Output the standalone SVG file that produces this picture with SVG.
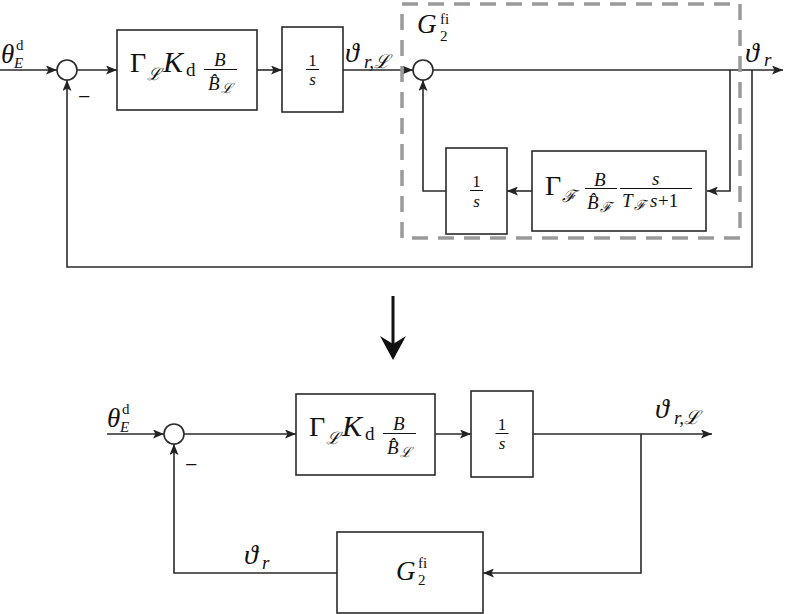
<svg xmlns="http://www.w3.org/2000/svg" width="786" height="614" viewBox="0 0 786 614">
<defs>
<marker id="arr" viewBox="0 0 11 9" refX="11" refY="4.5" markerWidth="11" markerHeight="9" markerUnits="userSpaceOnUse" orient="auto">
<path d="M0,0 L11,4.5 L0,9 L2.5,4.5 Z" fill="#222"/>
</marker>
</defs>
<style>
.w{fill:none;stroke:#2a2a2a;stroke-width:1.6}
.box{fill:#fff;stroke:#2a2a2a;stroke-width:1.6}
.sum{fill:#fff;stroke:#2a2a2a;stroke-width:1.6}
.bar{stroke:#111;stroke-width:1}
text{font-family:"Liberation Serif","DejaVu Serif",serif;fill:#111}
.it{font-style:italic}
.up{font-style:normal}
.m{font-size:28px}
.k{font-size:30px}
.l{font-size:27px}
.s{font-size:19px}
.f{font-size:17px}
.sc{font-size:17px}
.sg{font-size:15px}
.ss{font-size:14px}
.mi{font-size:22px}
.dash{fill:none;stroke:#9a9a9a;stroke-width:3.5;stroke-dasharray:16 10}
</style>
<rect width="786" height="614" fill="#fff"/>

<g id="connectors">
<line class="w" x1="0" y1="70" x2="57" y2="70" marker-end="url(#arr)"/>
<line class="w" x1="77" y1="70" x2="117" y2="70" marker-end="url(#arr)"/>
<line class="w" x1="257" y1="70" x2="282" y2="70" marker-end="url(#arr)"/>
<line class="w" x1="343" y1="70" x2="413" y2="70" marker-end="url(#arr)"/>
<line class="w" x1="433" y1="70" x2="783" y2="70" marker-end="url(#arr)"/>
<polyline class="w" points="730,70 730,191 707,191" marker-end="url(#arr)"/>
<line class="w" x1="532" y1="191" x2="507" y2="191" marker-end="url(#arr)"/>
<polyline class="w" points="446,191 423,191 423,80" marker-end="url(#arr)"/>
<polyline class="w" points="752,70 752,267 67,267 67,80" marker-end="url(#arr)"/>
<line x1="393" y1="296" x2="393" y2="345" stroke="#111" stroke-width="3"/>
<path d="M393,360 L380,336 L393,344 L406,336 Z" fill="#111"/>
<line class="w" x1="107" y1="434" x2="164" y2="434" marker-end="url(#arr)"/>
<line class="w" x1="184" y1="434" x2="296" y2="434" marker-end="url(#arr)"/>
<line class="w" x1="435" y1="434" x2="471" y2="434" marker-end="url(#arr)"/>
<line class="w" x1="533" y1="434" x2="712" y2="434" marker-end="url(#arr)"/>
<polyline class="w" points="641,434 641,573 483,573" marker-end="url(#arr)"/>
<polyline class="w" points="337,573 174,573 174,444" marker-end="url(#arr)"/>
</g>

<g id="G2fi_frame">
<rect class="dash" x="402" y="4" width="338" height="234"/>
<text class="it l" x="417" y="33">G<tspan class="up sg" x="440" y="24">fi</tspan><tspan class="up sg" x="440" y="41">2</tspan></text>
</g>

<g id="label_theta_top">
<text class="it l" x="1" y="63">θ<tspan class="up sg" x="16" y="50">d</tspan><tspan class="sg" x="14" y="68">E</tspan></text>
<text class="mi" x="78" y="104">−</text>
</g>

<g id="sum1"><circle class="sum" cx="67" cy="70" r="10"/></g>

<g id="box1">
<rect class="box" x="117" y="30" width="140" height="80"/>
<line class="bar" x1="204" y1="69.5" x2="237" y2="69.5"/>
<text class="m" x="130" y="72">Γ<tspan class="it sc" x="147" y="80">ℒ</tspan><tspan class="it k" x="163" y="72">K</tspan><tspan class="s" x="186" y="76">d</tspan><tspan class="it s" x="214" y="66">B</tspan><tspan class="it s" x="208" y="90">B̂</tspan><tspan class="it ss" x="221" y="93">ℒ</tspan></text>
</g>

<g id="box2">
<rect class="box" x="282" y="27" width="61" height="85"/>
<line class="bar" x1="306" y1="69.5" x2="319" y2="69.5"/>
<text class="f" x="312.5" y="66" text-anchor="middle">1<tspan class="it" x="312.5" y="85">s</tspan></text>
</g>

<g id="label_vrL_top">
<text class="it m" x="345" y="62">ϑ<tspan class="s" x="364" y="68">r,ℒ</tspan></text>
</g>

<g id="sum2"><circle class="sum" cx="423" cy="70" r="10"/></g>

<g id="label_vr_top">
<text class="it m" x="745" y="62">ϑ<tspan class="s" x="764" y="66">r</tspan></text>
</g>

<g id="box3">
<rect class="box" x="532" y="151" width="174" height="80"/>
<line class="bar" x1="585" y1="188.5" x2="617" y2="188.5"/>
<line class="bar" x1="620" y1="188.5" x2="692" y2="188.5"/>
<text class="m" x="545" y="195">Γ<tspan class="it sc" x="562" y="202">ℱ</tspan><tspan class="it s" x="594" y="186">B</tspan><tspan class="it s" x="587" y="209">B̂</tspan><tspan class="it ss" x="600" y="212">ℱ</tspan><tspan class="it s" x="652" y="185">s</tspan><tspan class="it s" x="622" y="207">T</tspan><tspan class="it ss" x="634" y="210">ℱ</tspan><tspan class="it s" x="650" y="207">s</tspan><tspan class="s" x="658" y="207">+1</tspan></text>
</g>

<g id="box4">
<rect class="box" x="446" y="148" width="61" height="86"/>
<line class="bar" x1="470" y1="190.5" x2="483" y2="190.5"/>
<text class="f" x="476.5" y="187" text-anchor="middle">1<tspan class="it" x="476.5" y="207">s</tspan></text>
</g>

<g id="label_theta_bottom">
<text class="it l" x="107" y="427">θ<tspan class="up sg" x="122" y="414">d</tspan><tspan class="sg" x="120" y="432">E</tspan></text>
<text class="mi" x="185" y="472">−</text>
</g>

<g id="sum3"><circle class="sum" cx="174" cy="434" r="10"/></g>

<g id="box5">
<rect class="box" x="296" y="394" width="139" height="81"/>
<line class="bar" x1="383" y1="433.5" x2="416" y2="433.5"/>
<text class="m" x="309" y="436">Γ<tspan class="it sc" x="326" y="444">ℒ</tspan><tspan class="it k" x="342" y="436">K</tspan><tspan class="s" x="365" y="440">d</tspan><tspan class="it s" x="393" y="430">B</tspan><tspan class="it s" x="387" y="454">B̂</tspan><tspan class="it ss" x="400" y="457">ℒ</tspan></text>
</g>

<g id="box6">
<rect class="box" x="471" y="391" width="62" height="86"/>
<line class="bar" x1="495.5" y1="433.5" x2="508.5" y2="433.5"/>
<text class="f" x="502" y="430" text-anchor="middle">1<tspan class="it" x="502" y="449">s</tspan></text>
</g>

<g id="label_vrL_bottom">
<text class="it m" x="655" y="418">ϑ<tspan class="s" x="674" y="424">r,ℒ</tspan></text>
</g>

<g id="box7">
<rect class="box" x="337" y="532" width="146" height="81"/>
<text class="it l" x="396" y="580">G<tspan class="up sg" x="418" y="568">fi</tspan><tspan class="up sg" x="418" y="585">2</tspan></text>
</g>

<g id="label_vr_bottom">
<text class="it m" x="244" y="564">ϑ<tspan class="s" x="262" y="569">r</tspan></text>
</g>
</svg>
